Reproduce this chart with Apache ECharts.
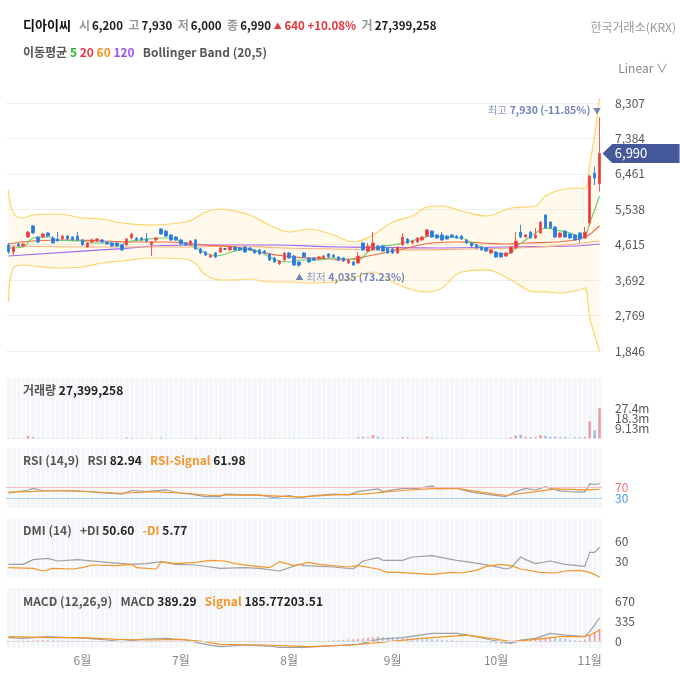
<!DOCTYPE html>
<html>
<head>
<meta charset="utf-8">
<script src="https://cdn.jsdelivr.net/npm/echarts@6/dist/echarts.min.js"></script>
<style>
html, body { margin: 0; padding: 0; background: #fff; }
#chart { width: 680px; height: 697px; }
</style>
</head>
<body>
<div id="chart"></div>
<script>
var FONT = '"Noto Sans CJK KR", "Noto Sans", sans-serif';
var UP = '#f0333b', DOWN = '#2a78de';

// trading days per month shown
var months = ['5월', '6월', '7월', '8월', '9월', '10월', '11월'];
var monthCounts = [15, 20, 22, 21, 21, 19, 3];

var opens = [4610,4425,4635,4580,4815,5105,4815,4815,4920,4790, 4765,4765,4840,4815,4840,4740,4555,4685,4710,4740,
  4685,4660,4660,4610,4610,4790,4790,4790,4765,4610, 4740,5025,4970,4870,4815,4740,4660,4610,4740,4505,
  4425,4295,4400,4425,4505,4480,4555,4530,4555,4530, 4480,4480,4450,4375,4270,4115,4215,4400,4320,4165,
  4400,4270,4270,4245,4270,4375,4345,4295,4270,4140, 4165,4140,4660,4450,4480,4580,4580,4530,4505,4400,
  4610,4765,4660,4685,4740,4840,4970,4870,4870,4840, 4870,4840,4840,4740,4660,4610,4555,4530,4400,4425,
  4400,4320,4400,4530,4945,4815,4945,4790,4920,5390, 5205,5075,4815,4970,4895,4870,4920,4790,5180,6480,6200];
var closes = [4425,4555,4580,4635,4945,4920,4685,4895,4840,4660, 4710,4840,4765,4740,4740,4610,4660,4740,4765,4685,
  4635,4580,4580,4480,4765,4895,4740,4740,4710,4685, 4790,4895,4840,4740,4740,4635,4610,4710,4505,4400,
  4345,4345,4295,4530,4505,4555,4480,4480,4425,4480, 4400,4375,4400,4215,4165,4190,4400,4270,4085,4085,
  4295,4165,4215,4295,4320,4295,4295,4215,4190,4215, 4085,4320,4480,4580,4660,4480,4450,4400,4400,4555,
  4815,4660,4710,4790,4815,5000,4815,4790,4740,4765, 4815,4790,4765,4660,4580,4530,4480,4450,4480,4295,
  4295,4400,4555,4710,4815,4870,4790,4870,5205,5050, 5050,4815,4920,4815,4790,4740,4765,4945,6405,6350,6990];
var lows = [4375,4350,4560,4570,4790,4900,4660,4790,4815,4650, 4700,4740,4740,4710,4720,4585,4530,4660,4685,4660,
  4610,4555,4555,4455,4585,4765,4710,4710,4685,4320, 4710,4870,4815,4710,4710,4610,4585,4585,4480,4375,
  4320,4270,4270,4400,4480,4455,4455,4455,4400,4455, 4375,4345,4375,4190,4140,4085,4190,4245,4060,4035,
  4270,4140,4190,4215,4245,4270,4270,4190,4165,4115, 4060,4115,4455,4425,4455,4455,4425,4375,4375,4375,
  4585,4635,4635,4660,4710,4815,4790,4765,4710,4740, 4790,4765,4740,4635,4555,4505,4455,4425,4375,4270,
  4270,4295,4375,4505,4790,4790,4765,4765,4895,5025, 5025,4790,4790,4790,4765,4715,4660,4765,5100,6170,6000];
var highs = [4660,4580,4660,4650,4970,5130,4830,4920,4945,4840, 4945,4870,4870,4840,4945,4765,4685,4765,4790,4765,
  4710,4685,4685,4635,4790,4920,4815,4815,4920,4710, 4815,5050,4995,4895,4840,4765,4685,4735,4765,4530,
  4450,4375,4425,4555,4530,4580,4580,4555,4580,4555, 4505,4505,4480,4400,4295,4215,4425,4425,4345,4190,
  4425,4295,4295,4320,4345,4400,4375,4320,4295,4245, 4190,4425,4685,4660,4945,4610,4610,4555,4530,4580,
  4920,4790,4740,4815,4840,5025,4995,4895,4945,4870, 4895,4870,4870,4765,4685,4635,4580,4555,4505,4450,
  4425,4425,4580,4945,5130,4895,4970,5050,5230,5410, 5230,5100,4945,4995,4920,4895,4945,5075,6430,6650,7930];
var volumes = [450000,380000,300000,280000,2100000,1400000,520000,380000,340000,420000,
  360000,300000,280000,260000,310000,330000,290000,270000,250000,240000,
  230000,260000,250000,300000,850000,620000,330000,280000,300000,520000,
  360000,780000,420000,330000,280000,300000,260000,320000,720000,380000,
  330000,280000,300000,700000,290000,260000,240000,230000,250000,240000,
  260000,280000,250000,380000,360000,330000,420000,310000,450000,400000,
  330000,300000,260000,250000,240000,230000,220000,240000,250000,260000,
  300000,1200000,1500000,1000000,3100000,1500000,620000,420000,380000,520000,
  1300000,900000,520000,480000,450000,1500000,700000,420000,480000,380000,
  340000,330000,310000,300000,320000,290000,280000,270000,300000,360000,
  320000,350000,900000,2500000,3300000,1500000,1200000,1200000,3000000,2200000,
  1500000,1500000,1000000,1200000,600000,1000000,1000000,1300000,15500000,7300000,27399258];

// overlay lines, read at sample days: [day index, value]
var ma5 = [[0,4530],[3,4556],[5,4790],[8,4816],[10,4738],[15,4712],[17,4660],[20,4660],[23,4608],[24,4686],[27,4738],
  [31,4790],[33,4790],[35,4686],[37,4608],[40,4400],[42,4321],[46,4452],[49,4504],[51,4426],[53,4295],[55,4191],
  [57,4165],[59,4217],[63,4217],[66,4269],[71,4217],[73,4426],[75,4556],[78,4608],[81,4686],[84,4790],[86,4842],
  [89,4816],[92,4790],[94,4660],[97,4504],[100,4370],[102,4400],[103,4556],[105,4738],[107,4921],[109,5051],
  [111,4999],[114,4921],[116,4816],[117,4840],[118,5181],[119,5519],[120,5884]];
var ma20 = [[0,4634],[5,4712],[12,4738],[19,4712],[25,4686],[32,4686],[36,4660],[40,4608],[46,4556],[51,4426],
  [56,4321],[61,4269],[66,4243],[67,4217],[74,4347],[81,4530],[86,4660],[91,4686],[96,4660],[101,4634],[105,4660],
  [111,4686],[115,4738],[117,4816],[118,4880],[119,4990],[120,5103]];
var ma60 = [[0,4582],[19,4556],[36,4556],[46,4582],[56,4530],[66,4504],[81,4478],[94,4504],[108,4556],[115,4634],[120,4712]];
var ma120 = [[0,4321],[19,4478],[37,4608],[53,4608],[67,4556],[88,4530],[101,4556],[115,4582],[120,4634]];
var bbUpper = [[0,6040],[1,5441],[3,5311],[5,5389],[10,5415],[15,5311],[19,5285],[23,5181],[29,5129],[36,5207],
  [38,5311],[40,5467],[43,5546],[46,5494],[49,5389],[53,5129],[57,4946],[61,5025],[66,4868],[70,4686],[74,4868],
  [78,5207],[82,5363],[85,5597],[88,5624],[92,5494],[97,5363],[102,5571],[107,5624],[109,5884],[112,6040],
  [116,6093],[117,6066],[118,6692],[119,7473],[120,8437]];
var bbLower = [[0,3123],[1,4009],[3,4087],[5,4061],[10,4009],[15,4035],[19,4139],[23,4191],[29,4269],[36,4243],
  [38,4113],[40,3826],[43,3696],[46,3696],[49,3722],[53,3644],[57,3644],[61,3618],[66,3644],[70,3748],[74,3904],
  [78,3644],[82,3436],[85,3384],[88,3488],[92,3904],[97,3957],[102,3696],[107,3384],[109,3384],[112,3357],
  [116,3436],[117,3488],[118,2732],[119,2263],[120,1847]];

var rsi = [[0,48],[4,60],[5,66],[7,58],[12,57],[16,54],[20,48],[23,45],[25,58],[28,54],[32,60],[35,48],[37,45],
  [40,36],[43,36],[44,45],[48,42],[51,42],[54,32],[57,40],[59,32],[62,40],[66,45],[69,42],[71,54],[75,64],[76,54],
  [80,66],[83,66],[86,75],[87,64],[91,66],[94,52],[98,42],[101,36],[103,54],[105,66],[107,60],[109,72],[110,66],
  [112,57],[114,54],[117,52],[118,82],[119,80],[120,82.94]];
var rsiSignal = [[0,52],[12,58],[23,48],[29,54],[36,48],[41,40],[48,42],[55,38],[59,34],[66,42],[72,45],[80,58],
  [87,66],[91,66],[96,52],[101,40],[107,54],[111,64],[117,60],[120,61.98]];
var plusDI = [[0,25],[3,25],[5,32],[8,34],[10,30],[14,32],[20,28],[25,25],[28,26],[31,29],[34,25],[38,24],[43,19],
  [48,20],[51,19],[55,15],[59,25],[60,23],[66,21],[70,18],[72,30],[75,35],[76,31],[80,31],[82,36],[86,38],[91,31],
  [94,28],[98,23],[101,18],[102,20],[104,36],[105,32],[107,26],[110,30],[113,25],[117,22],[118,43],[119,43],[120,50.60]];
var minusDI = [[0,20],[5,19],[7,15],[9,19],[13,18],[15,20],[17,24],[22,23],[25,25],[26,20],[30,18],[31,29],[34,26],
  [38,28],[41,31],[44,30],[46,26],[49,23],[53,20],[55,29],[58,23],[61,28],[63,25],[69,21],[71,23],[75,18],[77,13],
  [79,13],[86,10],[90,13],[92,12],[95,16],[97,22],[100,25],[102,23],[104,18],[108,13],[111,12],[113,15],[116,16],
  [118,13],[119,10],[120,5.77]];
var macd = [[0,56],[3,45],[8,73],[12,56],[16,45],[20,17],[23,-11],[27,28],[32,45],[36,17],[40,-56],[43,-95],[48,-67],
  [53,-84],[55,-106],[60,-106],[66,-78],[71,-56],[75,28],[80,56],[86,128],[91,128],[95,73],[98,17],[102,-39],
  [104,17],[107,45],[110,128],[113,100],[117,73],[118,156],[119,270],[120,389.29]];
var macdSignal = [[0,73],[9,56],[15,56],[22,28],[29,17],[35,28],[39,0],[43,-56],[52,-67],[61,-95],[70,-67],[77,-11],
  [84,45],[93,100],[98,45],[102,-11],[107,28],[112,73],[117,73],[118,100],[119,140],[120,185.77]];
var macdHist = [2,4,6,8,9,10,11,12,13,14,
  12,10,8,6,4,2,0,-2,-4,-6,-8,-10,-12,-14,-15,
  -13,-11,-9,-7,-5,-3,-1,1,3,4,5,
  2,-2,-8,-20,-28,-25,-22,-18,-15,-12,-10,-9,-7,-6,-5,
  -7,-9,-12,-15,-18,-17,-19,-22,-24,
  -20,-15,-10,-5,0,5,10,15,20,25,30,38,45,55,65,72,
  68,64,60,56,52,48,44,40,36,32,28,24,20,16,12,8,4,
  0,-5,-12,-18,-25,-32,-40,-46,-50,
  -40,-28,-12,5,20,35,50,62,70,
  60,48,36,25,15,8,
  20,100,150,203.51];

var categories = [];
var monthStart = {};
months.forEach(function (m, k) {
  for (var d = 1; d <= monthCounts[k]; d++) {
    if (d === 1 && k > 0) monthStart[categories.length] = m;
    categories.push(m + ' ' + d);
  }
});

function fmt(v) { return Math.round(v).toLocaleString('en-US'); }
function last(a) { var p = a[a.length - 1]; return p.length ? p[1] : p; }

var n = closes.length - 1;
var candles = opens.map(function (o, i) { return [o, closes[i], lows[i], highs[i]]; });
var hiVal = Math.max.apply(null, highs), hiIdx = highs.indexOf(hiVal);
var loVal = Math.min.apply(null, lows), loIdx = lows.indexOf(loVal);
var chg = closes[n] - closes[n - 1];
var chgPct = chg / closes[n - 1] * 100;
var volMax = Math.max.apply(null, volumes);
var bbBand = bbUpper.map(function (p, k) { return [p[0], p[1] - bbLower[k][1]]; });

var GL = 6, GW = 596;
var grids = [
  { left: GL, width: GW, top: 103, height: 248 },
  { left: GL, width: GW, top: 378, height: 60.5 },
  { left: GL, width: GW, top: 448, height: 60 },
  { left: GL, width: GW, top: 518, height: 60 },
  { left: GL, width: GW, top: 588, height: 60 }
].map(function (g, k) {
  if (k > 0) { g.show = true; g.backgroundColor = '#f5f6fa'; g.borderWidth = 0; }
  return g;
});

var xAxes = grids.map(function (g, k) {
  return {
    type: 'category', gridIndex: k, data: categories, boundaryGap: true,
    axisLine: { show: false }, axisTick: { show: false },
    splitLine: { show: k > 0, interval: 0, lineStyle: { color: '#ffffff', width: 1 } },
    axisLabel: k === 4 ? {
      interval: function (idx) { return monthStart[idx] !== undefined; },
      formatter: function (v, idx) { return monthStart[idx] || ''; },
      color: '#888', fontSize: 12, margin: 6, fontFamily: FONT
    } : { show: false }
  };
});

var labelBase = { color: '#555', fontSize: 12, margin: 13, fontFamily: FONT };
function yAx(k, min, max, extra) {
  var o = {
    type: 'value', gridIndex: k, position: 'right', min: min, max: max,
    axisLine: { show: false }, axisTick: { show: false }, splitLine: { show: false }
  };
  for (var key in extra) o[key] = extra[key];
  return o;
}
function volLabel(v) { return (v / 1e6).toPrecision(3) + 'm'; }
// one axis per crowded label so none of them gets hidden
function labelAxis(k, min, max, value, color, formatter) {
  return yAx(k, min, max, { axisLabel: Object.assign({}, labelBase, { customValues: [value], color: color || '#555',
    formatter: formatter || '{value}' }) });
}
var yAxes = [
  yAx(0, 1846, 8307, { interval: 923, splitLine: { show: true, lineStyle: { color: '#eeeeee' } },
    axisLabel: Object.assign({}, labelBase, { formatter: fmt }) }),
  yAx(1, 0, volMax * 2, { axisLabel: { show: false } }),
  yAx(2, -5.5, 212.5, { axisLabel: { show: false } }),
  yAx(3, 4.5, 94.5, { axisLabel: Object.assign({}, labelBase, { customValues: [30, 60] }) }),
  yAx(4, -117, 888, { axisLabel: Object.assign({}, labelBase, { customValues: [0, 335, 670] }) }),
  labelAxis(1, 0, volMax * 2, volMax / 3, null, volLabel),
  labelAxis(1, 0, volMax * 2, volMax * 2 / 3, null, volLabel),
  labelAxis(1, 0, volMax * 2, volMax, null, volLabel),
  labelAxis(2, -5.5, 212.5, 70, '#f0707a'),
  labelAxis(2, -5.5, 212.5, 30, '#4a9af0')
];

function line(name, data, color, xi, extra) {
  var s = {
    name: name, type: 'line', data: data, xAxisIndex: xi, yAxisIndex: xi,
    symbol: 'none', lineStyle: { color: color, width: 1.2 }, itemStyle: { color: color },
    silent: true, z: 3
  };
  for (var key in extra) s[key] = extra[key];
  return s;
}

var markRich = {
  a: { color: '#8d9cc6', fontSize: 10.5, fontFamily: FONT },
  b: { color: '#7284b8', fontSize: 10.5, fontWeight: 'bold', fontFamily: FONT },
  c: { color: '#7284b8', fontSize: 8 }
};

var series = [
  line('BB lower', bbLower, '#fdd46a', 0, { stack: 'bb', smooth: 0.4, z: 1 }),
  line('BB upper', bbBand, '#fdd46a', 0, { stack: 'bb', smooth: 0.4, z: 1, clip: false,
    areaStyle: { color: 'rgba(255, 222, 120, 0.2)' } }),
  line('MA120', ma120, '#a466f5', 0, { smooth: true }),
  line('MA60', ma60, '#f9b27a', 0, { smooth: true }),
  line('MA20', ma20, '#f3673f', 0, { smooth: true }),
  line('MA5', ma5, '#6cd06c', 0, { smooth: 0.4 }),
  {
    name: 'price', type: 'candlestick', data: candles, xAxisIndex: 0, yAxisIndex: 0, barWidth: 3, z: 4,
    itemStyle: { color: UP, color0: DOWN, borderColor: '#f25a5a', borderColor0: '#3d88e3', borderColorDoji: '#555', borderWidth: 1 },
    markPoint: {
      silent: true, animation: false,
      data: [
        { coord: [n, closes[n]], symbol: 'path://M0,10L10,0L80,0L80,20L10,20Z', symbolSize: [77, 19],
          symbolKeepAspect: false, symbolOffset: [41.5, 0], itemStyle: { color: '#45599a' },
          label: { show: true, position: 'inside', offset: [-10, 0], formatter: fmt(closes[n]),
            color: '#fff', fontSize: 13, fontFamily: FONT } },
        { coord: [hiIdx, hiVal], symbol: 'circle', symbolSize: 1, itemStyle: { color: 'rgba(0,0,0,0)' },
          label: { show: true, position: 'left', distance: 0, offset: [2, -7],
            formatter: '{a|최고} {b|' + fmt(hiVal) + ' (' + ((closes[n] - hiVal) / hiVal * 100).toFixed(2) + '%)} {c|▼}',
            rich: markRich } },
        { coord: [loIdx, loVal], symbol: 'circle', symbolSize: 1, itemStyle: { color: 'rgba(0,0,0,0)' },
          label: { show: true, position: 'right', distance: 0, offset: [-4, 10],
            formatter: '{c|▲} {a|최저} {b|' + fmt(loVal) + ' (' + ((closes[n] - loVal) / loVal * 100).toFixed(2) + '%)}',
            rich: markRich } }
      ]
    }
  },
  {
    name: 'volume', type: 'bar', data: volumes, xAxisIndex: 1, yAxisIndex: 1, barWidth: 2.5, silent: true,
    itemStyle: { color: function (p) { return closes[p.dataIndex] >= opens[p.dataIndex] ? 'rgba(240,90,100,0.6)' : 'rgba(70,140,230,0.55)'; } }
  },
  line('RSI', rsi, '#a0a0a0', 2, {
    markLine: { silent: true, symbol: 'none', label: { show: false }, animation: false,
      data: [{ yAxis: 70, lineStyle: { color: '#f7bcc1', type: 'solid', width: 1 } },
             { yAxis: 30, lineStyle: { color: '#a9d3f7', type: 'solid', width: 1 } }] } }),
  line('RSI-Signal', rsiSignal, '#f5962a', 2, {}),
  line('+DI', plusDI, '#a0a0a0', 3, {}),
  line('-DI', minusDI, '#f5962a', 3, {}),
  {
    name: 'hist', type: 'bar', data: macdHist, xAxisIndex: 4, yAxisIndex: 4, barWidth: 1.5, silent: true,
    itemStyle: { color: function (p) { var i = p.dataIndex; return (i === 0 || macdHist[i] >= macdHist[i - 1]) ? 'rgba(240,110,120,0.75)' : 'rgba(90,150,230,0.6)'; } },
    markLine: { silent: true, symbol: 'none', label: { show: false }, animation: false,
      data: [{ yAxis: 0, lineStyle: { color: '#dddddd', type: 'solid', width: 1 } }] }
  },
  line('MACD', macd, '#a0a0a0', 4, {}),
  line('Signal', macdSignal, '#f5962a', 4, {})
];

var rs = {
  n: { fontSize: 13, fontWeight: 'bold', color: '#111', fontFamily: FONT },
  g: { fontSize: 12, color: '#999', fontFamily: FONT, padding: [0, 2, 0, 0] },
  t: { fontSize: 12, color: '#555', fontFamily: FONT },
  v: { fontSize: 11.5, color: '#222', fontFamily: FONT },
  b: { fontSize: 12, color: '#222', fontWeight: 'bold', fontFamily: FONT },
  o: { fontSize: 12, color: '#f5962a', fontFamily: FONT },
  r: { fontSize: 11.5, color: '#e8343c', fontFamily: FONT },
  ra: { fontSize: 8, color: '#e8343c' },
  c5: { fontSize: 12, color: '#26b526', fontFamily: FONT },
  c20: { fontSize: 12, color: '#f0364a', fontFamily: FONT },
  c60: { fontSize: 12, color: '#f7931e', fontFamily: FONT },
  c120: { fontSize: 12, color: '#9b55f5', fontFamily: FONT }
};
function ttl(text, left, top) {
  return { text: text, left: left, top: top, padding: 0, textStyle: { rich: rs, fontSize: 12, fontFamily: FONT } };
}

var titles = [
  ttl('{n|디아이씨}   {g|시}{v|' + fmt(opens[n]) + '}  {g|고}{v|' + fmt(highs[n]) + '}  {g|저}{v|' + fmt(lows[n]) +
    '}  {g|종}{v|' + fmt(closes[n]) + '} {ra|▲} {r|' + fmt(chg) + ' +' + chgPct.toFixed(2) + '%}  {g|거}{v|' + fmt(volumes[n]) + '}', 23, 19),
  { text: '한국거래소(KRX)', right: 4, top: 21, padding: 0, textStyle: { fontSize: 12, color: '#999', fontWeight: 'normal', fontFamily: FONT } },
  ttl('{t|이동평균} {c5|5} {c20|20} {c60|60} {c120|120}   {t|Bollinger Band (20,5)}', 23, 46),
  { text: 'Linear ∨', right: 12, top: 62, padding: 0, textStyle: { fontSize: 12, color: '#888', fontWeight: 'normal', fontFamily: FONT } },
  ttl('{t|거래량} {b|' + fmt(volumes[n]) + '}', 23, 384),
  ttl('{t|RSI (14,9)}   {t|RSI} {b|' + last(rsi).toFixed(2) + '}   {o|RSI-Signal} {b|' + last(rsiSignal).toFixed(2) + '}', 23, 454),
  ttl('{t|DMI (14)}   {t|+DI} {b|' + last(plusDI).toFixed(2) + '}   {o|-DI} {b|' + last(minusDI).toFixed(2) + '}', 23, 524),
  ttl('{t|MACD (12,26,9)}   {t|MACD} {b|' + last(macd).toFixed(2) + '}   {o|Signal} {b|' + last(macdSignal).toFixed(2) + last(macdHist).toFixed(2) + '}', 23, 595)
];

var chart = echarts.init(document.getElementById('chart'));
chart.setOption({
  animation: false,
  backgroundColor: '#ffffff',
  textStyle: { fontFamily: FONT },
  title: titles,
  grid: grids,
  xAxis: xAxes,
  yAxis: yAxes,
  series: series
});
</script>
</body>
</html>
